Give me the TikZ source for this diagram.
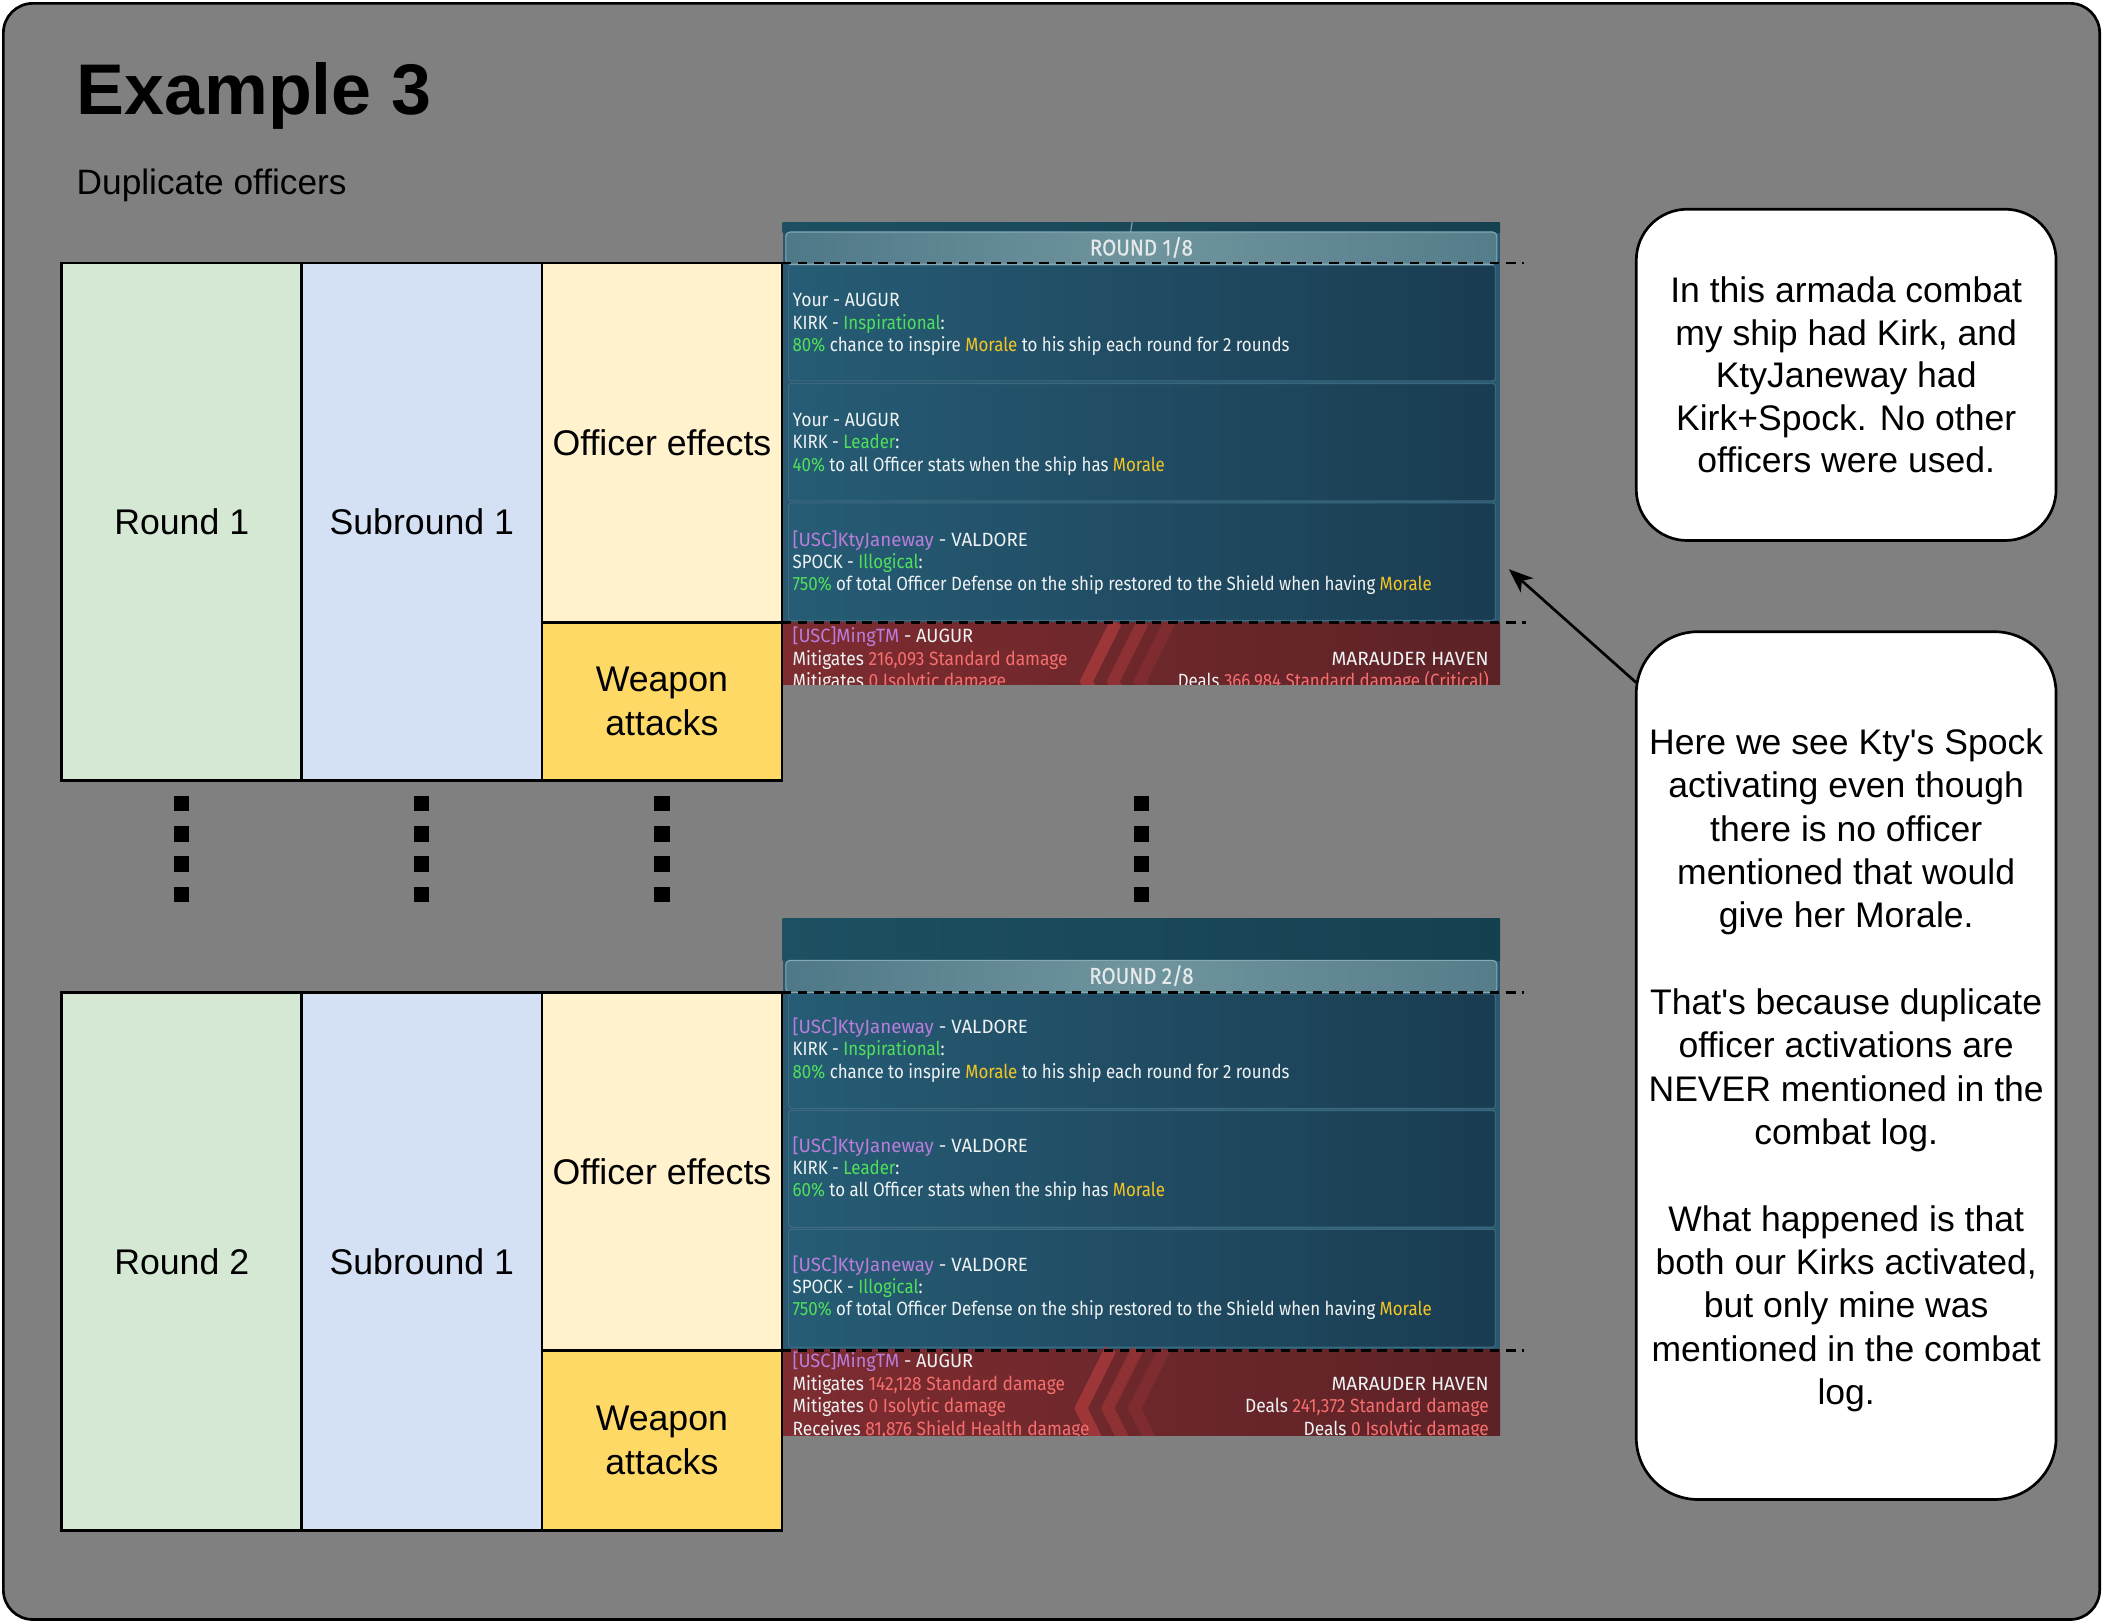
\documentclass[tikz,border=0pt]{standalone}
\usepackage{fontspec}
\usepackage{graphicx}
\setmainfont{Liberation Sans}[Ligatures=TeXOff]
\newfontfamily\gamefont[FakeStretch=0.88]{Fira Sans}
\newfontfamily\gamehead[FakeStretch=0.9,FakeBold=0.8]{Fira Sans}
\usetikzlibrary{arrows.meta,calc}
\definecolor{bggray}{HTML}{808080}
\definecolor{rndgreen}{HTML}{D5E8D4}
\definecolor{subblue}{HTML}{D4E1F5}
\definecolor{offyellow}{HTML}{FFF2CC}
\definecolor{weapgold}{HTML}{FFD966}
\definecolor{gwhite}{HTML}{EEF2F3}
\definecolor{ggreen}{HTML}{4FE05A}
\definecolor{gyellow}{HTML}{F5C623}
\definecolor{gpurple}{HTML}{B97DDB}
\definecolor{gred}{HTML}{F76E6E}
\definecolor{panelL}{HTML}{265C75}
\definecolor{panelR}{HTML}{1A3C51}
\definecolor{panelEdge}{HTML}{3B6A80}
\definecolor{ssbg}{HTML}{2A5870}
\definecolor{hdrL}{HTML}{4F7888}
\definecolor{hdrM}{HTML}{6F959E}
\definecolor{hdrR}{HTML}{557C8A}
\definecolor{hdrEdge}{HTML}{86A9B3}
\definecolor{topL}{HTML}{1D5062}
\definecolor{topR}{HTML}{15404F}
\definecolor{redL}{HTML}{7E2C30}
\definecolor{redR}{HTML}{5C2226}
\definecolor{chev}{HTML}{A3383A}
\newcommand{\cgrn}[1]{\textcolor{ggreen}{#1}}
\newcommand{\cyel}[1]{\textcolor{gyellow}{#1}}
\newcommand{\cpur}[1]{\textcolor{gpurple}{#1}}
\newcommand{\cred}[1]{\textcolor{gred}{#1}}
\newcommand{\widen}[2]{\scalebox{#1}[1]{#2}}
\tikzset{
  cell/.style={draw=black, line width=2pt, inner sep=0pt, outer sep=0pt,
    font=\fontsize{26.6}{33}\selectfont, align=center},
  callout/.style={draw=black, fill=white, line width=2pt, inner sep=0pt, outer sep=0pt,
    font=\fontsize{26.5}{31.7}\selectfont, align=center},
  gtext/.style={anchor=base west, inner sep=0pt, outer sep=0pt,
    font=\gamefont\fontsize{14.3}{16}\selectfont, text=gwhite},
  gtextr/.style={gtext, anchor=base east},
  ghead/.style={inner sep=0pt, outer sep=0pt, font=\gamehead\fontsize{17}{18}\selectfont, text=gwhite!92!gray},
  panel/.style={left color=panelL, right color=panelR, draw=panelEdge, line width=0.8pt, rounded corners=2pt},
  header/.style={left color=hdrL, right color=hdrR, middle color=hdrM, draw=hdrEdge, line width=0.8pt, rounded corners=3pt},
  redpart/.style={left color=redL, right color=redR},
  chevline/.style={draw=chev, line width=9pt},
  dashline/.style={draw=black, line width=2pt, dash pattern=on 7pt off 5pt},
  dotline/.style={draw=black, line width=11.4pt, dash pattern=on 11.5pt off 11pt},
  arrowline/.style={draw=black, line width=2pt, -{Stealth[length=18pt,width=14pt,inset=5pt]}},
}
\begin{document}
\begin{tikzpicture}[x=1pt,y=-1pt]
\useasboundingbox (0,0) rectangle (1568,1210);
\fill[white] (0,0) rectangle (1568,1210);
\node[draw=black, line width=2pt, fill=bggray, rounded corners=22pt,
  minimum width=1563pt, minimum height=1205pt, inner sep=0pt] (frame) at (784,605) {};

\node[anchor=base west, inner sep=0pt, font=\bfseries\fontsize{53.5}{60}\selectfont] (title) at (57,85) {Example 3};
\node[anchor=base west, inner sep=0pt, font=\fontsize{26.3}{30}\selectfont] (subtitle) at (57,145) {Duplicate officers};

% ---------- Screenshot 1 ----------
\begin{scope}
\clip (583.5,166) rectangle (1118.5,510.5);
\fill[ssbg] (583.5,166) rectangle (1118.5,510.5);
\shade[left color=topL, right color=topR] (583.5,160) rectangle (1118.5,173);
\draw[hdrEdge, line width=0.8pt] (845,160) -- (843,173);
\shade[header] (586,173) rectangle (1116,197);
\shade[panel] (588,198) rectangle (1115,284);
\shade[panel] (588,286) rectangle (1115,373.5);
\shade[panel] (588,375) rectangle (1115,462.5);
\shade[redpart] (583.5,464) rectangle (1118.5,512);
\draw[chevline, opacity=0.9] (832,464) -- (810,508) -- (832,552);
\draw[chevline, opacity=0.6] (852,464) -- (830,508) -- (852,552);
\draw[chevline, opacity=0.35] (872,464) -- (850,508) -- (872,552);
\node[ghead] (hd1) at (851,184.5) {ROUND 1/8};
\node[gtext] (a11) at (591,228.7) {\widen{1.04}{Your - AUGUR}};
\node[gtext] (a12) at (591,245.3) {KIRK - \cgrn{Inspirational}:};
\node[gtext] (a13) at (591,262) {\cgrn{80\%} chance to inspire \cyel{Morale} to his ship each round for 2 rounds};
\node[gtext] (a21) at (591,318.2) {\widen{1.04}{Your - AUGUR}};
\node[gtext] (a22) at (591,334.3) {KIRK - \cgrn{Leader}:};
\node[gtext] (a23) at (591,351.2) {\cgrn{40\%} to all Officer stats when the ship has \cyel{Morale}};
\node[gtext] (a31) at (591,407.2) {\widen{1.11}{\cpur{[USC]KtyJaneway} - VALDORE}};
\node[gtext] (a32) at (591,423.8) {SPOCK - \cgrn{Illogical}:};
\node[gtext] (a33) at (591,440.5) {\cgrn{750\%} of total Officer Defense on the ship restored to the Shield when having \cyel{Morale}};
\node[gtext] (a41) at (591,479.2) {\widen{1.08}{\cpur{[USC]MingTM} - AUGUR}};
\node[gtext] (a42) at (591,495.9) {\widen{1.03}{Mitigates \cred{216,093 Standard damage}}};
\node[gtext] (a43) at (591,512.6) {\widen{1.03}{Mitigates \cred{0 Isolytic damage}}};
\node[gtextr] (a44) at (1110,495.9) {\widen{1.13}{MARAUDER HAVEN}};
\node[gtextr] (a45) at (1110,512.6) {Deals \cred{366,984 Standard damage (Critical)}};
\end{scope}

% ---------- Screenshot 2 ----------
\begin{scope}
\clip (583.5,684.5) rectangle (1118.5,1070);
\fill[ssbg] (583.5,684.5) rectangle (1118.5,1070);
\shade[left color=topL, right color=topR] (583.5,684.5) rectangle (1118.5,716);
\shade[header] (586,716) rectangle (1116,740);
\shade[panel] (588,741) rectangle (1115,826.5);
\shade[panel] (588,828) rectangle (1115,915);
\shade[panel] (588,916.5) rectangle (1115,1004.5);
\shade[redpart] (583.5,1006) rectangle (1118.5,1072);
\draw[chevline, opacity=0.9] (828,1006) -- (806,1050) -- (828,1094);
\draw[chevline, opacity=0.6] (848,1006) -- (826,1050) -- (848,1094);
\draw[chevline, opacity=0.35] (868,1006) -- (846,1050) -- (868,1094);
\node[ghead] (hd2) at (851,727.5) {ROUND 2/8};
\node[gtext] (b11) at (591,770.7) {\widen{1.11}{\cpur{[USC]KtyJaneway} - VALDORE}};
\node[gtext] (b12) at (591,787.2) {KIRK - \cgrn{Inspirational}:};
\node[gtext] (b13) at (591,804.1) {\cgrn{80\%} chance to inspire \cyel{Morale} to his ship each round for 2 rounds};
\node[gtext] (b21) at (591,859.3) {\widen{1.11}{\cpur{[USC]KtyJaneway} - VALDORE}};
\node[gtext] (b22) at (591,875.6) {KIRK - \cgrn{Leader}:};
\node[gtext] (b23) at (591,892.4) {\cgrn{60\%} to all Officer stats when the ship has \cyel{Morale}};
\node[gtext] (b31) at (591,947.9) {\widen{1.11}{\cpur{[USC]KtyJaneway} - VALDORE}};
\node[gtext] (b32) at (591,964.7) {SPOCK - \cgrn{Illogical}:};
\node[gtext] (b33) at (591,981) {\cgrn{750\%} of total Officer Defense on the ship restored to the Shield when having \cyel{Morale}};
\node[gtext] (b41) at (591,1019.9) {\widen{1.08}{\cpur{[USC]MingTM} - AUGUR}};
\node[gtext] (b42) at (591,1036.8) {\widen{1.03}{Mitigates \cred{142,128 Standard damage}}};
\node[gtext] (b43) at (591,1053.3) {\widen{1.03}{Mitigates \cred{0 Isolytic damage}}};
\node[gtext] (b44) at (591,1070.1) {\widen{1.03}{Receives \cred{81,876 Shield Health damage}}};
\node[gtextr] (b45) at (1110,1036.8) {\widen{1.13}{MARAUDER HAVEN}};
\node[gtextr] (b46) at (1110,1053.3) {\widen{1.03}{Deals \cred{241,372 Standard damage}}};
\node[gtextr] (b47) at (1110,1070.1) {\widen{1.03}{Deals \cred{0 Isolytic damage}}};
\end{scope}

% ---------- Table 1 ----------
\node[cell, fill=rndgreen, minimum width=179pt, minimum height=386pt] (r1) at (135.5,389) {Round 1};
\node[cell, fill=subblue, minimum width=179pt, minimum height=386pt] (s1) at (314.5,389) {Subround 1};
\node[cell, fill=offyellow, minimum width=179pt, minimum height=268pt] (oe1) at (493.5,330) {Officer effects};
\node[cell, fill=weapgold, minimum width=179pt, minimum height=118pt] (wa1) at (493.5,523) {Weapon\\attacks};

% ---------- Table 2 ----------
\node[cell, fill=rndgreen, minimum width=179pt, minimum height=401pt] (r2) at (135.5,940.5) {Round 2};
\node[cell, fill=subblue, minimum width=179pt, minimum height=401pt] (s2) at (314.5,940.5) {Subround 1};
\node[cell, fill=offyellow, minimum width=179pt, minimum height=267pt] (oe2) at (493.5,873.5) {Officer effects};
\node[cell, fill=weapgold, minimum width=179pt, minimum height=134pt] (wa2) at (493.5,1074) {Weapon\\attacks};

% ---------- dashed guide lines ----------
\coordinate (d1) at (1136,196);
\coordinate (d2) at (1138,464);
\coordinate (d3) at (1136,740);
\coordinate (d4) at (1136,1007);
\draw[dashline] (oe1.north east) -- (d1);
\draw[dashline] (oe1.south east) -- (d2);
\draw[dashline] (oe2.north east) -- (d3);
\draw[dashline] (oe2.south east) -- (d4);

% ---------- vertical dots ----------
\coordinate (v1a) at (135.5,593.5); \coordinate (v1b) at (135.5,672.5);
\coordinate (v2a) at (314.5,593.5); \coordinate (v2b) at (314.5,672.5);
\coordinate (v3a) at (493.5,593.5); \coordinate (v3b) at (493.5,672.5);
\coordinate (v4a) at (851,593.5);   \coordinate (v4b) at (851,672.5);
\draw[dotline] (v1a) -- (v1b);
\draw[dotline] (v2a) -- (v2b);
\draw[dotline] (v3a) -- (v3b);
\draw[dotline] (v4a) -- (v4b);

% ---------- callouts ----------
\node[callout, minimum width=313pt, minimum height=247pt, rounded corners=38pt] (c1) at (1376.5,279.5)
  {In this armada combat\\my ship had Kirk, and\\KtyJaneway had\\Kirk+Spock. No other\\officers were used.};
\node[callout, minimum width=313pt, minimum height=647pt, rounded corners=46pt,
  font=\fontsize{26.5}{32.3}\selectfont] (c2) at (1376.5,794.5)
  {\rule{0pt}{5pt}\\[-11.2pt]Here we see Kty's Spock\\activating even though\\there is no officer\\mentioned that would\\give her Morale.\\[32.3pt]That's because duplicate\\officer activations are\\NEVER mentioned in the\\combat log.\\[32.3pt]What happened is that\\both our Kirks activated,\\but only mine was\\mentioned in the combat\\log.};

\coordinate (spock) at (1125,424.4);
\draw[arrowline] ($(c2.north west)+(0,38)$) -- (spock);
\end{tikzpicture}
\end{document}
